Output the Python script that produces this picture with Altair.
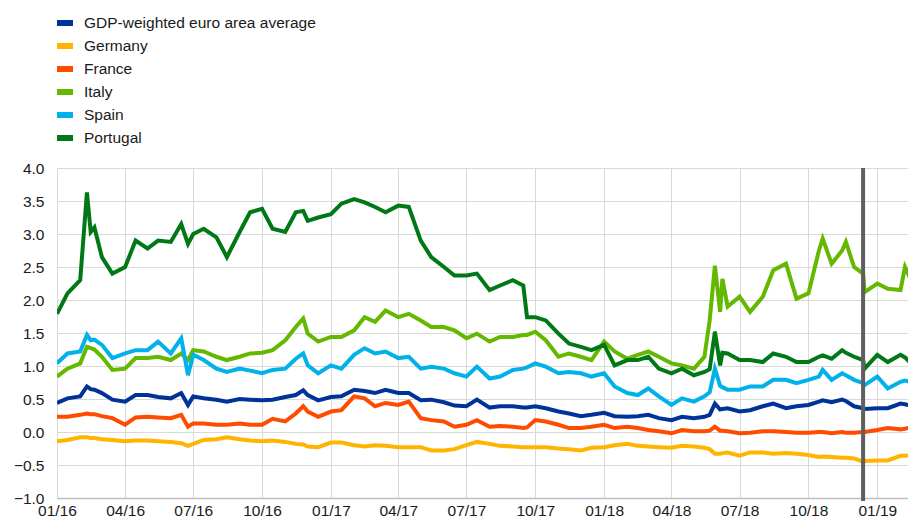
import altair as alt
import pandas as pd

dates = [
    "2016-01-01", "2016-01-15", "2016-02-01", "2016-02-10", "2016-02-15", "2016-02-20",
    "2016-03-01", "2016-03-15", "2016-04-01", "2016-04-15", "2016-05-01", "2016-05-15",
    "2016-06-01", "2016-06-15", "2016-06-24", "2016-07-01", "2016-07-15", "2016-08-01",
    "2016-08-15", "2016-09-01", "2016-09-15", "2016-10-01", "2016-10-15", "2016-11-01",
    "2016-11-15", "2016-11-25", "2016-12-01", "2016-12-15", "2017-01-01", "2017-01-15",
    "2017-02-01", "2017-02-15", "2017-03-01", "2017-03-15", "2017-04-01", "2017-04-15",
    "2017-05-01", "2017-05-15", "2017-06-01", "2017-06-15", "2017-07-01", "2017-07-15",
    "2017-08-01", "2017-08-15", "2017-09-01", "2017-09-15", "2017-09-20", "2017-10-01",
    "2017-10-15", "2017-11-01", "2017-11-15", "2017-12-01", "2017-12-15", "2018-01-01",
    "2018-01-15", "2018-02-01", "2018-02-15", "2018-03-01", "2018-03-15", "2018-04-01",
    "2018-04-15", "2018-05-01", "2018-05-15", "2018-05-22", "2018-05-29", "2018-06-05",
    "2018-06-08", "2018-06-15", "2018-07-01", "2018-07-15", "2018-08-01", "2018-08-15",
    "2018-09-01", "2018-09-15", "2018-10-01", "2018-10-15", "2018-10-20", "2018-11-01",
    "2018-11-15", "2018-11-20", "2018-12-01", "2018-12-13", "2018-12-15", "2019-01-01",
    "2019-01-15", "2019-02-01", "2019-02-07", "2019-02-15", "2019-02-22",
]

gdp_weighted = [
    0.44, 0.51, 0.54, 0.69, 0.65, 0.64, 0.59, 0.49, 0.46, 0.56, 0.56, 0.53,
    0.51, 0.59, 0.41, 0.54, 0.51, 0.49, 0.46, 0.50, 0.49, 0.48, 0.49, 0.53,
    0.56, 0.63, 0.56, 0.48, 0.53, 0.54, 0.64, 0.62, 0.59, 0.64, 0.59, 0.59,
    0.48, 0.49, 0.45, 0.40, 0.39, 0.49, 0.37, 0.39, 0.39, 0.37, 0.37, 0.39,
    0.36, 0.31, 0.28, 0.24, 0.26, 0.29, 0.24, 0.23, 0.24, 0.26, 0.21, 0.18,
    0.23, 0.21, 0.23, 0.26, 0.43, 0.34, 0.35, 0.36, 0.31, 0.33, 0.39, 0.43,
    0.36, 0.39, 0.41, 0.46, 0.48, 0.45, 0.49, 0.47, 0.39, 0.36, 0.35, 0.36,
    0.36, 0.43, 0.42, 0.40, 0.41,
]
germany = [
    -0.14, -0.12, -0.08, -0.08, -0.09, -0.09, -0.11, -0.12, -0.14, -0.13, -0.13, -0.14,
    -0.15, -0.17, -0.21, -0.18, -0.12, -0.11, -0.08, -0.11, -0.13, -0.14, -0.13, -0.15,
    -0.18, -0.19, -0.22, -0.23, -0.16, -0.16, -0.20, -0.22, -0.20, -0.21, -0.23, -0.23,
    -0.23, -0.28, -0.28, -0.26, -0.20, -0.15, -0.18, -0.21, -0.22, -0.23, -0.23, -0.23,
    -0.23, -0.25, -0.26, -0.28, -0.24, -0.23, -0.20, -0.18, -0.21, -0.22, -0.23, -0.24,
    -0.21, -0.22, -0.24, -0.26, -0.33, -0.33, -0.32, -0.31, -0.36, -0.31, -0.31, -0.33,
    -0.32, -0.33, -0.35, -0.38, -0.37, -0.38, -0.39, -0.39, -0.40, -0.45, -0.44, -0.43,
    -0.43, -0.36, -0.36, -0.35, -0.36,
]
france = [
    0.23, 0.23, 0.26, 0.28, 0.27, 0.27, 0.24, 0.21, 0.11, 0.22, 0.23, 0.22,
    0.21, 0.26, 0.08, 0.13, 0.13, 0.11, 0.11, 0.13, 0.11, 0.11, 0.20, 0.16,
    0.28, 0.39, 0.31, 0.23, 0.31, 0.33, 0.54, 0.51, 0.39, 0.44, 0.41, 0.46,
    0.21, 0.18, 0.16, 0.08, 0.11, 0.18, 0.08, 0.09, 0.08, 0.06, 0.07, 0.18,
    0.16, 0.11, 0.06, 0.06, 0.08, 0.11, 0.06, 0.08, 0.06, 0.03, 0.01, -0.02,
    0.03, 0.01, 0.01, 0.02, 0.08, 0.02, 0.02, 0.01, -0.02, -0.01, 0.01, 0.01,
    0.00, -0.01, -0.01, 0.00, 0.00, -0.02, 0.00, -0.01, -0.01, 0.00, 0.00, 0.03,
    0.06, 0.04, 0.05, 0.07, 0.06,
]
italy = [
    0.84, 0.96, 1.04, 1.29, 1.27, 1.25, 1.14, 0.94, 0.96, 1.12, 1.12, 1.14,
    1.09, 1.19, 1.09, 1.24, 1.22, 1.14, 1.09, 1.14, 1.19, 1.20, 1.24, 1.39,
    1.59, 1.72, 1.49, 1.37, 1.44, 1.44, 1.54, 1.74, 1.67, 1.84, 1.74, 1.79,
    1.69, 1.59, 1.59, 1.54, 1.42, 1.49, 1.37, 1.44, 1.44, 1.47, 1.47, 1.52,
    1.39, 1.14, 1.19, 1.14, 1.09, 1.37, 1.22, 1.11, 1.17, 1.22, 1.14, 1.04,
    1.01, 0.96, 1.14, 1.69, 2.52, 1.82, 2.32, 1.90, 2.05, 1.82, 2.05, 2.45,
    2.55, 2.02, 2.10, 2.75, 2.93, 2.55, 2.75, 2.88, 2.50, 2.40, 2.12, 2.25,
    2.17, 2.15, 2.50, 2.30, 2.40,
]
spain = [
    1.04, 1.19, 1.22, 1.47, 1.39, 1.40, 1.32, 1.12, 1.19, 1.24, 1.24, 1.37,
    1.19, 1.42, 0.86, 1.17, 1.09, 0.96, 0.91, 0.96, 0.93, 0.89, 0.94, 0.96,
    1.11, 1.19, 1.01, 0.89, 1.01, 0.96, 1.17, 1.27, 1.19, 1.22, 1.12, 1.14,
    0.96, 0.99, 0.96, 0.89, 0.84, 0.99, 0.81, 0.84, 0.94, 0.96, 0.98, 1.04,
    0.99, 0.89, 0.91, 0.89, 0.84, 0.89, 0.69, 0.59, 0.56, 0.66, 0.54, 0.41,
    0.51, 0.46, 0.54, 0.60, 0.96, 0.70, 0.68, 0.64, 0.64, 0.69, 0.69, 0.79,
    0.79, 0.74, 0.79, 0.84, 0.94, 0.79, 0.89, 0.86, 0.79, 0.74, 0.71, 0.84,
    0.66, 0.76, 0.78, 0.76, 0.73,
]
portugal = [
    1.79, 2.10, 2.30, 3.63, 3.03, 3.10, 2.65, 2.40, 2.50, 2.90, 2.78, 2.90,
    2.88, 3.15, 2.85, 3.00, 3.08, 2.95, 2.65, 3.03, 3.33, 3.38, 3.08, 3.03,
    3.33, 3.35, 3.20, 3.25, 3.30, 3.46, 3.53, 3.48, 3.41, 3.33, 3.43, 3.41,
    2.90, 2.65, 2.50, 2.37, 2.37, 2.40, 2.15, 2.22, 2.30, 2.22, 1.74, 1.74,
    1.69, 1.49, 1.34, 1.29, 1.24, 1.32, 1.01, 1.09, 1.09, 1.14, 0.96, 0.89,
    0.96, 0.86, 0.91, 0.95, 1.52, 1.01, 1.20, 1.19, 1.09, 1.09, 1.06, 1.19,
    1.14, 1.06, 1.06, 1.14, 1.16, 1.11, 1.24, 1.20, 1.14, 1.09, 0.96, 1.17,
    1.06, 1.17, 1.13, 1.04, 0.99,
]

series_names = [
    "GDP-weighted euro area average", "Germany", "France", "Italy", "Spain", "Portugal",
]
series_colors = ["#003299", "#FFB400", "#FF4B00", "#65B800", "#00B1EA", "#007816"]
series_values = [gdp_weighted, germany, france, italy, spain, portugal]

tick_dates = [
    "2016-01-01", "2016-04-01", "2016-07-01", "2016-10-01", "2017-01-01", "2017-04-01",
    "2017-07-01", "2017-10-01", "2018-01-01", "2018-04-01", "2018-07-01", "2018-10-01",
    "2019-01-01",
]
y_ticks = [-1.0, -0.5, 0.0, 0.5, 1.0, 1.5, 2.0, 2.5, 3.0, 3.5, 4.0]
marker_date = ["2018-12-13"]

rows = []
for order, (name, vals) in enumerate(zip(series_names, series_values)):
    for d, v in zip(dates, vals):
        rows.append({"date": d, "series": name, "value": v, "order": order})
df = pd.DataFrame(rows)

FONT = "Liberation Sans"
FS = 15.5

# visible window: the plot area is cut at the right edge of the page
x_scale = alt.Scale(domain=["2016-01-01", "2019-02-11"])
y_scale = alt.Scale(domain=[-1.0, 4.0], nice=False)

lines = alt.Chart(df).mark_line(strokeWidth=4, clip=True).encode(
    x=alt.X("date:T", scale=x_scale, title=None,
            axis=alt.Axis(values=tick_dates, format="%m/%y", ticks=False,
                          labelPadding=5, labelFontSize=FS, labelColor="#1a1a1a",
                          labelFont=FONT, grid=True, gridColor="#d9d9d9",
                          domainColor="#bfbfbf", domainWidth=1.5,
                          labelOverlap=False, labelFlush=False)),
    y=alt.Y("value:Q", scale=y_scale, title=None,
            axis=alt.Axis(values=y_ticks, format=".1f", ticks=False,
                          labelPadding=13, labelFontSize=FS, labelColor="#1a1a1a",
                          labelFont=FONT, grid=True, gridColor="#d9d9d9",
                          domainColor="#d9d9d9")),
    color=alt.Color("series:N",
                    scale=alt.Scale(domain=series_names, range=series_colors),
                    sort=series_names,
                    legend=alt.Legend(title=None, orient="none", legendX=-3, legendY=-156,
                                      symbolType="stroke", symbolStrokeWidth=6,
                                      symbolSize=256, labelFont=FONT, labelFontSize=FS,
                                      labelColor="#1a1a1a", labelOffset=8, labelLimit=0,
                                      rowPadding=-1.9, direction="vertical")),
    order=alt.Order("order:Q"),
    detail="series:N",
)

rule_df = pd.DataFrame({"date": marker_date})
rule = alt.Chart(rule_df).mark_rule(color="#5f5f5f", strokeWidth=4).encode(
    x=alt.X("date:T", scale=x_scale),
    y=alt.value(0),
    y2=alt.value(333),
)

chart = alt.layer(lines, rule).properties(
    width=851,
    height=330,
    padding={"left": 49, "top": 160, "right": 0, "bottom": 26},
    autosize=alt.AutoSizeParams(type="none"),
).configure_view(stroke=None).configure(background="white")

chart.save("out.html", embed_options={"renderer": "svg", "actions": False})
